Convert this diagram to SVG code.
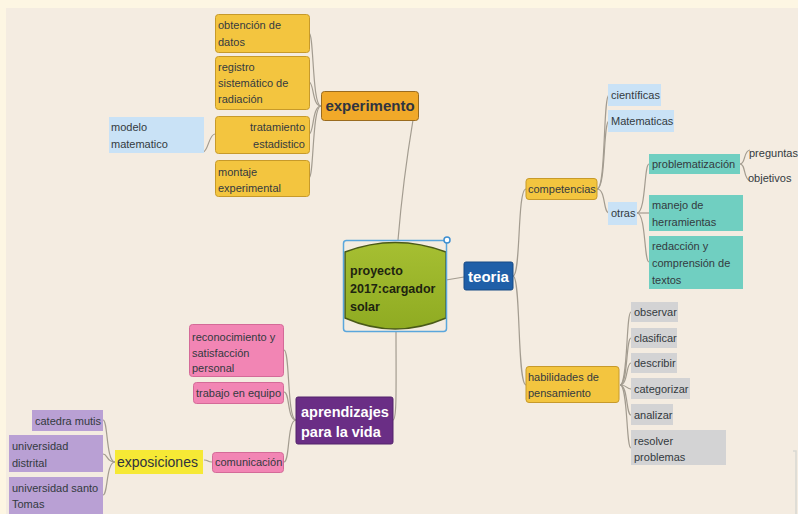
<svg xmlns="http://www.w3.org/2000/svg" width="798" height="514" viewBox="0 0 798 514">
<defs>
<linearGradient id="gGreen" x1="0" y1="0" x2="0" y2="1">
<stop offset="0" stop-color="#a6bf32"/>
<stop offset="1" stop-color="#8fab22"/>
</linearGradient>
<style>
text{font-family:"Liberation Sans",Arial,sans-serif;font-size:11px;fill:#333a40}
.b{font-weight:bold}
.w{fill:#ffffff}
.yel{fill:#f3c53f;stroke:#c79a2a;stroke-width:1}
.blu{fill:#c9e2f6}
.tea{fill:#70cfc1}
.gry{fill:#d3d3d4}
.pnk{fill:#f285b4;stroke:#d46a98;stroke-width:1}
.lpu{fill:#b9a0d4}
.con path,.con line{fill:none;stroke:#a39c90;stroke-width:1.2}
</style>
</defs>
<rect x="0" y="0" width="798" height="514" fill="#fdf6e3"/>
<rect x="6" y="8" width="792" height="506" fill="#f4ece1"/>
<path d="M793 451 H796 V514" fill="none" stroke="#d8d8d2" stroke-width="1.5"/>

<g id="connectors" class="con">
<path d="M398 240 Q403 180 413 120"/>
<path d="M396 332 C396 385 397 420 393 420"/>
<line x1="446" y1="280" x2="464" y2="277"/>
<path d="M321 106 C312 106 314 33 309 33"/>
<path d="M321 106 C312 106 314 82 309 82"/>
<path d="M321 106 C312 106 314 134 309 134"/>
<path d="M321 106 C312 106 314 178 309 178"/>
<path d="M215 134 C209 134 208 152 203 152"/>
<path d="M513 276 C521 276 517 189 526 189"/>
<path d="M513 276 C521 276 517 385 526 385"/>
<path d="M597 189 C606 189 603 95 609 95"/>
<path d="M597 189 C606 189 603 121 609 121"/>
<path d="M597 189 C606 189 603 213 609 213"/>
<path d="M637 213 C646 213 644 164 649 164"/>
<path d="M637 213 C646 213 644 213 649 213"/>
<path d="M637 213 C646 213 644 262 649 262"/>
<path d="M740 164 C746 164 743 151 750 150"/>
<path d="M740 164 C746 164 743 179 750 181"/>
<path d="M620 385 C628 385 626 312 631 312"/>
<path d="M620 385 C628 385 626 338 631 338"/>
<path d="M620 385 C628 385 626 363 631 363"/>
<path d="M620 385 C628 385 626 389 631 389"/>
<path d="M620 385 C628 385 626 415 631 415"/>
<path d="M620 385 C628 385 626 448 631 448"/>
<path d="M296 420 C287 420 290 350 284 350"/>
<path d="M296 420 C287 420 290 392 284 392"/>
<path d="M296 420 C287 420 290 462 284 462"/>
<path d="M212 462 C207 462 209 460 204 460"/>
<path d="M115 462 C106 462 108 420 103 420"/>
<path d="M115 462 C106 462 108 454 103 454"/>
<path d="M115 462 C106 462 108 495 103 495"/>
</g>

<g id="central">
<path d="M345 252 Q395 233 446 252 L446 318 Q395 340 345 318 Z" fill="url(#gGreen)" stroke="#4a5a18" stroke-width="1.5"/>
<rect x="343.5" y="240.5" width="103" height="91" rx="3" fill="none" stroke="#5aa6dc" stroke-width="1.5"/>
<circle cx="447" cy="240" r="3" fill="#ffffff" stroke="#3d8fd0" stroke-width="1.5"/>
<text class="b" x="350" y="275" style="font-size:12.5px;fill:#1e2410">proyecto</text>
<text class="b" x="350" y="293" style="font-size:12.5px;fill:#1e2410">2017:cargador</text>
<text class="b" x="350" y="311" style="font-size:12.5px;fill:#1e2410">solar</text>
</g>

<g id="experimento">
<rect class="yel" x="321.5" y="91.5" width="97" height="29" rx="3" style="fill:#f1a929;stroke:#9a6b1f"/>
<text class="b" x="370" y="111" text-anchor="middle" style="font-size:15px;fill:#2f3440">experimento</text>
</g>
<g id="obtencion">
<rect class="yel" x="215.5" y="14.5" width="94" height="38" rx="3"/>
<text x="218" y="29">obtención de</text>
<text x="218" y="46">datos</text>
</g>
<g id="registro">
<rect class="yel" x="215.5" y="56.5" width="94" height="53" rx="3"/>
<text x="218" y="71">registro</text>
<text x="218" y="87">sistemático de</text>
<text x="218" y="103">radiación</text>
</g>
<g id="tratamiento">
<rect class="yel" x="215.5" y="116.5" width="94" height="37" rx="3"/>
<text x="305" y="131" text-anchor="end">tratamiento</text>
<text x="305" y="148" text-anchor="end">estadistico</text>
</g>
<g id="modelo">
<rect class="blu" x="109" y="117" width="95" height="36"/>
<text x="111" y="131">modelo</text>
<text x="111" y="148">matematico</text>
</g>
<g id="montaje">
<rect class="yel" x="215.5" y="160.5" width="94" height="36" rx="3"/>
<text x="218" y="176">montaje</text>
<text x="218" y="192">experimental</text>
</g>

<g id="teoria">
<rect x="464" y="262" width="49" height="28" rx="2" fill="#1f5fa8" stroke="#174a85"/>
<text class="b w" x="488.5" y="281.5" text-anchor="middle" style="font-size:15px">teoria</text>
</g>
<g id="competencias">
<rect class="yel" x="526" y="178.5" width="71" height="21" rx="3"/>
<text x="528" y="193">competencias</text>
</g>
<g id="cientificas">
<rect class="blu" x="608" y="84" width="53" height="22"/>
<text x="611" y="99">científicas</text>
</g>
<g id="matematicas">
<rect class="blu" x="608" y="110" width="66" height="22"/>
<text x="611" y="125">Matematicas</text>
</g>
<g id="otras">
<rect class="blu" x="608" y="202" width="29" height="23"/>
<text x="611" y="217">otras</text>
</g>
<g id="problematizacion">
<rect class="tea" x="649" y="154" width="91" height="20"/>
<text x="652" y="168">problematización</text>
</g>
<g id="preguntas">
<text x="749" y="157">preguntas</text>
</g>
<g id="objetivos">
<text x="748" y="182">objetivos</text>
</g>
<g id="manejo">
<rect class="tea" x="649" y="195" width="94" height="36"/>
<text x="652" y="209">manejo de</text>
<text x="652" y="226">herramientas</text>
</g>
<g id="redaccion">
<rect class="tea" x="649" y="236" width="94" height="53"/>
<text x="652" y="250">redacción y</text>
<text x="652" y="267">comprensión de</text>
<text x="652" y="284">textos</text>
</g>
<g id="habilidades">
<rect class="yel" x="526" y="366.5" width="93" height="36" rx="3"/>
<text x="528" y="381">habilidades de</text>
<text x="528" y="397">pensamiento</text>
</g>
<g id="observar">
<rect class="gry" x="631" y="302" width="47" height="20"/>
<text x="634" y="316">observar</text>
</g>
<g id="clasificar">
<rect class="gry" x="631" y="328" width="46" height="20"/>
<text x="634" y="342">clasificar</text>
</g>
<g id="describir">
<rect class="gry" x="631" y="353" width="46" height="20"/>
<text x="634" y="367">describir</text>
</g>
<g id="categorizar">
<rect class="gry" x="631" y="378" width="59" height="21"/>
<text x="634" y="393">categorizar</text>
</g>
<g id="analizar">
<rect class="gry" x="631" y="404" width="42" height="21"/>
<text x="634" y="419">analizar</text>
</g>
<g id="resolver">
<rect class="gry" x="631" y="430" width="95" height="35"/>
<text x="634" y="445">resolver</text>
<text x="634" y="461">problemas</text>
</g>

<g id="aprendizajes">
<rect x="296" y="397" width="97" height="47" rx="2" fill="#6a2e85" stroke="#52226a"/>
<text class="b w" x="301" y="417" style="font-size:14.5px">aprendizajes</text>
<text class="b w" x="301" y="437" style="font-size:14.5px">para la vida</text>
</g>
<g id="reconocimiento">
<rect class="pnk" x="189.5" y="324.5" width="94" height="52" rx="3"/>
<text x="192" y="341">reconocimiento y</text>
<text x="192" y="357">satisfacción</text>
<text x="192" y="372">personal</text>
</g>
<g id="trabajo">
<rect class="pnk" x="193.5" y="382.5" width="90" height="21" rx="3"/>
<text x="196" y="397">trabajo en equipo</text>
</g>
<g id="comunicacion">
<rect class="pnk" x="212.5" y="452.5" width="71" height="20" rx="3"/>
<text x="215" y="466">comunicación</text>
</g>
<g id="exposiciones">
<rect x="115" y="450" width="88" height="24" fill="#f6e935"/>
<text x="117" y="467" style="font-size:14px;fill:#2f3340">exposiciones</text>
</g>
<g id="catedra">
<rect class="lpu" x="32" y="410" width="71" height="21"/>
<text x="101" y="425" text-anchor="end">catedra mutis</text>
</g>
<g id="distrital">
<rect class="lpu" x="9" y="435" width="94" height="37"/>
<text x="12" y="450">universidad</text>
<text x="12" y="467">distrital</text>
</g>
<g id="santotomas">
<rect class="lpu" x="9" y="477" width="94" height="37"/>
<text x="12" y="492">universidad santo</text>
<text x="12" y="508">Tomas</text>
</g>
</svg>
